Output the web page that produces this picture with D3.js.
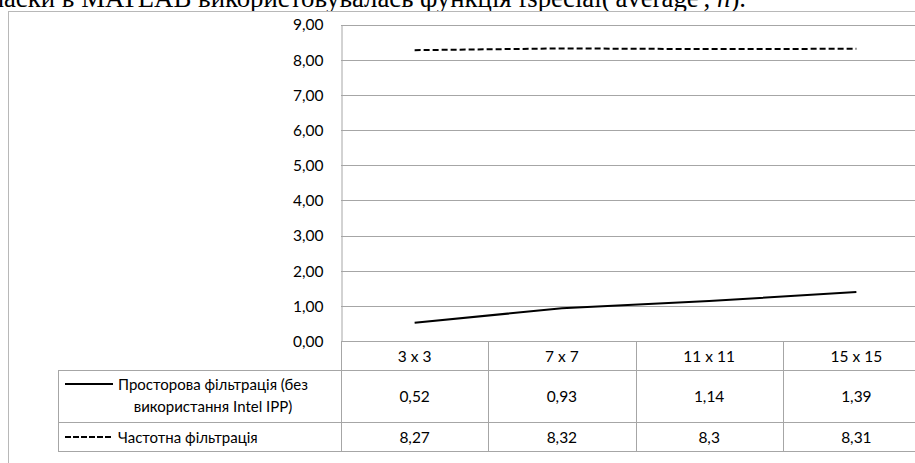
<!DOCTYPE html>
<html>
<head>
<meta charset="utf-8">
<script src="https://cdn.jsdelivr.net/npm/d3@7"></script>
<style>
  html, body { margin: 0; padding: 0; background: #fff; overflow: hidden; }
  svg { display: block; }
</style>
</head>
<body>
<svg id="chart" width="915" height="463"></svg>
<script>
// Mask sizes and processing times
const categories = ["3 x 3", "7 x 7", "11 x 11", "15 x 15"];
const spatialValues = [0.52, 0.93, 1.14, 1.39];
const frequencyValues = [8.27, 8.32, 8.3, 8.31];
const seriesNames = [
  ["Просторова фільтрація (без", "використання Intel IPP)"],
  ["Частотна фільтрація"]
];
const yTicks = [0, 1, 2, 3, 4, 5, 6, 7, 8, 9];

const svg = d3.select("#chart");
const uaLocale = d3.formatLocale({ decimal: ",", thousands: " ", grouping: [3], currency: ["", ""] });
const fmtAxis = uaLocale.format(".2f");
const fmtCell = v => String(v).replace(".", ",");

const chartFont = "Lato, 'Open Sans', sans-serif";
const gridColor = "#a6a6a6";

// Caption line of the surrounding document
const caption = svg.append("text")
  .attr("x", 746).attr("y", 7)
  .attr("text-anchor", "end")
  .attr("font-family", "'Liberation Serif', 'Times New Roman', serif")
  .attr("font-size", 26.8)
  .attr("fill", "#000");
caption.append("tspan").text("маски в MATLAB використовувалась функція fspecial('average', ");
caption.append("tspan").attr("font-style", "italic").text("n");
caption.append("tspan").text(").");

// Chart frame
svg.append("rect")
  .attr("x", 8.5).attr("y", 11.5)
  .attr("width", 1000).attr("height", 600)
  .attr("fill", "#fff").attr("stroke", "#b8b8b8").attr("stroke-width", 1);

const plotLeft = 341, plotRight = 930, plotTop = 24.5, plotBottom = 341;
const x = d3.scaleBand().domain(categories).range([plotLeft, plotRight]);
const y = d3.scaleLinear().domain([0, 9]).range([plotBottom, plotTop]);

// Horizontal gridlines
svg.append("g").selectAll("line").data(yTicks).join("line")
  .attr("x1", plotLeft).attr("x2", plotRight)
  .attr("y1", d => Math.round(y(d)) + 0.5).attr("y2", d => Math.round(y(d)) + 0.5)
  .attr("stroke", gridColor).attr("stroke-width", 1);

// Vertical value axis
const yAxis = d3.axisLeft(y).tickValues(yTicks).tickFormat(fmtAxis).tickSize(0).tickPadding(18);
const yg = svg.append("g").attr("transform", `translate(${plotLeft + 0.5},0.5)`).call(yAxis);
yg.select(".domain").attr("stroke", gridColor);
yg.selectAll("text")
  .attr("font-family", chartFont).attr("font-size", 15.5).attr("fill", "#000");

// Data table below the plot
const tableLeft = 58;
const rowEdges = [plotBottom, 370, 422, 451];
const tbl = svg.append("g").attr("stroke", gridColor).attr("stroke-width", 1);
rowEdges.slice(1).forEach(yy => {
  tbl.append("line").attr("x1", tableLeft).attr("x2", plotRight)
    .attr("y1", yy + 0.5).attr("y2", yy + 0.5);
});
tbl.append("line").attr("x1", tableLeft + 0.5).attr("x2", tableLeft + 0.5)
  .attr("y1", rowEdges[1]).attr("y2", rowEdges[3] + 0.5);
const colEdges = categories.map(c => x(c)).concat([plotRight]);
colEdges.forEach(xx => {
  tbl.append("line").attr("x1", Math.round(xx) + 0.5).attr("x2", Math.round(xx) + 0.5)
    .attr("y1", plotBottom).attr("y2", rowEdges[3] + 0.5);
});

const cellText = (g, xx, yy, t, anchor, size) => g.append("text")
  .attr("x", xx).attr("y", yy)
  .attr("text-anchor", anchor || "middle")
  .attr("dominant-baseline", "central")
  .attr("font-family", chartFont).attr("font-size", size || 15.5).attr("fill", "#000")
  .text(t);

const cells = svg.append("g");
const rowMid = [356, 396, 437];
categories.forEach((c, i) => {
  const cx = x(c) + x.bandwidth() / 2;
  cellText(cells, cx, rowMid[0], c);
  cellText(cells, cx, rowMid[1], fmtCell(spatialValues[i]));
  cellText(cells, cx, rowMid[2], fmtCell(frequencyValues[i]));
});

// Legend keys inside the table
const keyX1 = 65, keyX2 = 113;
cells.append("line").attr("x1", keyX1).attr("x2", keyX2).attr("y1", 384).attr("y2", 384)
  .attr("stroke", "#000").attr("stroke-width", 2);
cells.append("line").attr("x1", keyX1).attr("x2", keyX2).attr("y1", 437).attr("y2", 437)
  .attr("stroke", "#000").attr("stroke-width", 2).attr("stroke-dasharray", "6,2");
cellText(cells, 213, 384, seriesNames[0][0], "middle", 15);
cellText(cells, 213, 406, seriesNames[0][1], "middle", 15);
cellText(cells, 118, 437, seriesNames[1][0], "start", 15);

// Series lines
const line = d3.line()
  .x((d, i) => x(categories[i]) + x.bandwidth() / 2)
  .y(d => y(d));
svg.append("path").datum(spatialValues)
  .attr("d", line).attr("fill", "none")
  .attr("stroke", "#000").attr("stroke-width", 2);
svg.append("path").datum(frequencyValues)
  .attr("d", line).attr("fill", "none")
  .attr("stroke", "#000").attr("stroke-width", 2).attr("stroke-dasharray", "6,3");
</script>
</body>
</html>
